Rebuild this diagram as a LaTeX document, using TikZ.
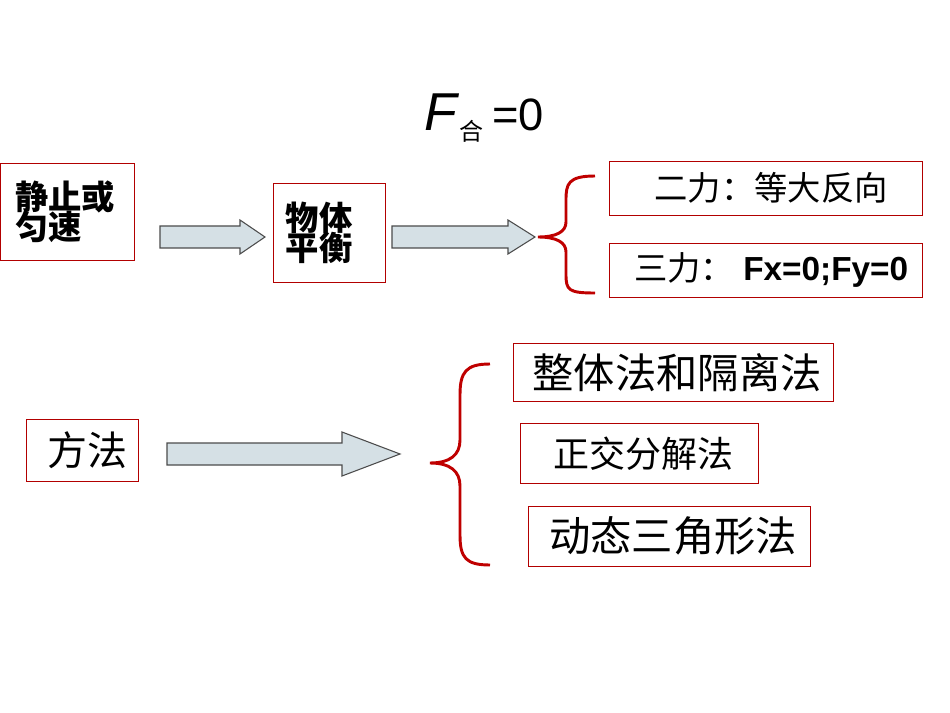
\documentclass[tikz,border=0pt]{standalone}
\usepackage{fontspec}
\setmainfont{Liberation Sans}
\newfontfamily\cjk{Noto Sans CJK SC}
\usetikzlibrary{positioning}
\tikzset{
  box/.style={draw=red!70!black,fill=white,inner sep=0pt,anchor=north west,align=left},
  arr/.style={draw=black!70,fill=cyan!25!gray!30,line width=0.8pt},
  brace/.style={draw=red!75!black,line width=2.2pt}
}
\begin{document}
\begin{tikzpicture}[x=0.75pt,y=-0.75pt]
\useasboundingbox (0,0) rectangle (950,713);

% formula
\node (formula) at (484,118) {\fontsize{40}{40}\selectfont\textit{F}\raisebox{-8pt}{\cjk\fontsize{18}{18}\selectfont 合}\,\fontsize{34}{34}\selectfont =0};

% upper row
\node[box,minimum width=134*0.75pt,minimum height=97*0.75pt,text width=120*0.75pt] (still) at (0,163)
  {\hspace{6pt}\cjk\fontsize{25}{30}\selectfont\textbf{静止或}\\[-2pt]\hspace{6pt}\cjk\fontsize{25}{30}\selectfont\textbf{匀速}};
\node[box,minimum width=112*0.75pt,minimum height=99*0.75pt,text width=100*0.75pt] (balance) at (273,183)
  {\hspace{5pt}\cjk\fontsize{25}{30}\selectfont\textbf{物体}\\[-2pt]\hspace{5pt}\cjk\fontsize{25}{30}\selectfont\textbf{平衡}};
\node[box,minimum width=313*0.75pt,minimum height=54*0.75pt] (two) at (609,161)
  {\hspace{8pt}\cjk\fontsize{25}{25}\selectfont 二力：等大反向};
\node[box,minimum width=313*0.75pt,minimum height=54*0.75pt] (three) at (609,243)
  {\hspace{8pt}\cjk\fontsize{25}{25}\selectfont 三力：\fontspec{Liberation Sans}\bfseries\ Fx=0;Fy=0};

\draw[arr] (160,226) -- (240,226) -- (240,220) -- (265,237) -- (240,254) -- (240,248) -- (160,248) -- cycle;
\draw[arr] (392,226) -- (508,226) -- (508,220) -- (535,237) -- (508,254) -- (508,248) -- (392,248) -- cycle;
\draw[brace] (595,176) .. controls (568,176) and (566,184) .. (566,200)
  -- (566,222) .. controls (566,232) and (556,237) .. (538,237)
  .. controls (556,237) and (566,242) .. (566,252) -- (566,274)
  .. controls (566,290) and (568,293) .. (595,293);

% lower row
\node[box,minimum width=112*0.75pt,minimum height=62*0.75pt] (method) at (26,419)
  {\hspace{8pt}\cjk\fontsize{30}{30}\selectfont 方法};
\node[box,minimum width=320*0.75pt,minimum height=58*0.75pt] (whole) at (513,343)
  {\hspace{6pt}\cjk\fontsize{31}{31}\selectfont 整体法和隔离法};
\node[box,minimum width=238*0.75pt,minimum height=60*0.75pt] (ortho) at (520,423)
  {\hspace{6pt}\cjk\fontsize{27}{27}\selectfont 正交分解法};
\node[box,minimum width=282*0.75pt,minimum height=60*0.75pt] (dynamic) at (528,506)
  {\hspace{6pt}\cjk\fontsize{31}{31}\selectfont 动态三角形法};

\draw[arr] (167,443) -- (342,443) -- (342,432) -- (400,454) -- (342,476) -- (342,465) -- (167,465) -- cycle;
\draw[brace] (490,364) .. controls (466,364) and (460,372) .. (460,395)
  -- (460,440) .. controls (460,455) and (450,463) .. (430,463)
  .. controls (450,463) and (460,471) .. (460,486) -- (460,535)
  .. controls (460,558) and (466,565) .. (490,565);
\end{tikzpicture}
\end{document}
